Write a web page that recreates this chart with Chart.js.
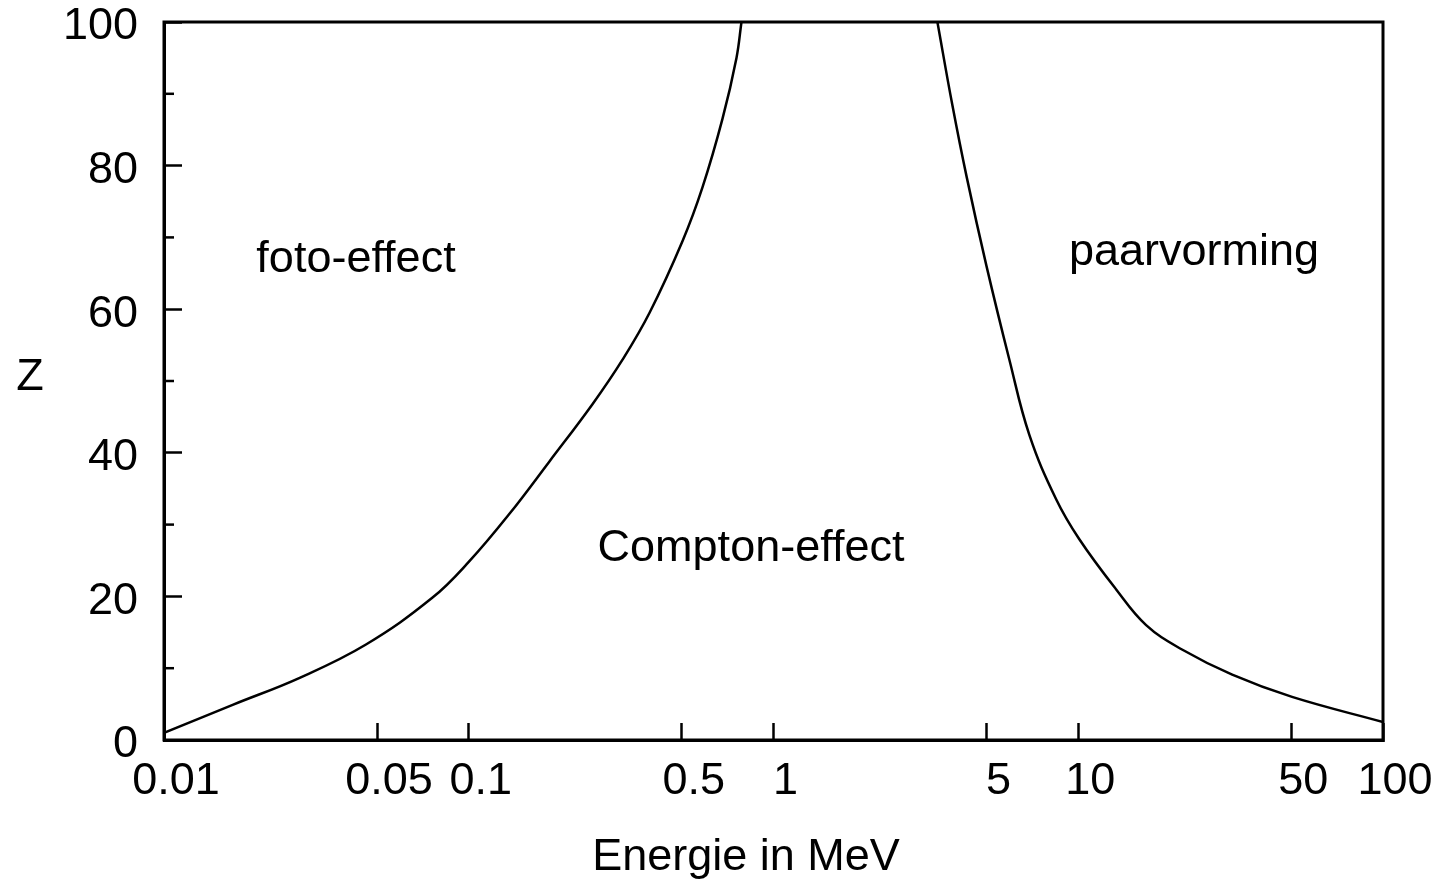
<!DOCTYPE html>
<html>
<head>
<meta charset="utf-8">
<script src="https://cdn.jsdelivr.net/npm/chart.js@4"></script>
<style>
  html, body { margin: 0; padding: 0; background: #fff; }
</style>
</head>
<body>
<canvas id="chart" width="1454" height="882"></canvas>
<script>
// grens foto-effect / Compton-effect
const photoEnergy = [0.01, 0.0168, 0.028, 0.046, 0.0759, 0.1, 0.136, 0.184, 0.255, 0.32, 0.392, 0.503, 0.585, 0.68, 0.756, 0.785];
const photoZ      = [1, 4.9, 8.7, 13.3, 19.8, 24.8, 31.5, 38.8, 46.8, 53, 59.5, 69.5, 77, 86.5, 95, 100];

// grens Compton-effect / paarvorming
const pairEnergy = [3.45, 3.86, 4.3, 5.0, 5.94, 6.91, 8.47, 10.07, 13.3, 16.7, 21.9, 32, 50.3, 100];
const pairZ      = [100, 88.5, 78.5, 66, 53, 42.5, 33.5, 28, 21, 16, 12.6, 9.1, 6.0, 2.5];

const energyTicks = [0.01, 0.05, 0.1, 0.5, 1, 5, 10, 50, 100];
const minorZ = [10, 30, 50, 70, 90];

const FONT = '"Liberation Sans", Arial, sans-serif';

const toPoints = (xs, ys) => xs.map((x, i) => ({ x, y: ys[i] }));

// tekst in de grafiek: gebieden, Z en de x-as titel
const labels = [
  { text: 'foto-effect', x: 356, y: 272 },
  { text: 'paarvorming', x: 1194, y: 265 },
  { text: 'Compton-effect', x: 751, y: 561 },
  { text: 'Energie in MeV', x: 746, y: 870 },
  { text: 'Z', x: 30, y: 390 }
];

const annotations = {
  id: 'annotations',
  afterDraw(chart) {
    const { ctx, chartArea, scales: { y } } = chart;
    ctx.save();
    // kader
    ctx.strokeStyle = '#000';
    ctx.lineWidth = 3;
    ctx.strokeRect(chartArea.left, chartArea.top, chartArea.right - chartArea.left, chartArea.bottom - chartArea.top);
    // kleine streepjes op de y-as
    ctx.lineWidth = 2.5;
    minorZ.forEach(v => {
      const py = y.getPixelForValue(v);
      ctx.beginPath();
      ctx.moveTo(chartArea.left, py);
      ctx.lineTo(chartArea.left + 10, py);
      ctx.stroke();
    });
    ctx.fillStyle = '#000';
    ctx.font = '45px ' + FONT;
    ctx.textAlign = 'center';
    ctx.textBaseline = 'alphabetic';
    labels.forEach(l => ctx.fillText(l.text, l.x, l.y));
    ctx.restore();
  }
};

new Chart(document.getElementById('chart'), {
  type: 'line',
  data: {
    datasets: [
      {
        label: 'foto / Compton',
        data: toPoints(photoEnergy, photoZ),
        borderColor: '#000',
        borderWidth: 2.5,
        pointRadius: 0,
        tension: 0.4,
        fill: false
      },
      {
        label: 'Compton / paar',
        data: toPoints(pairEnergy, pairZ),
        borderColor: '#000',
        borderWidth: 2.5,
        pointRadius: 0,
        tension: 0.4,
        fill: false
      }
    ]
  },
  options: {
    responsive: false,
    devicePixelRatio: 1,
    animation: false,
    layout: { padding: { top: 22, right: 71, left: 0, bottom: 0 } },
    plugins: {
      legend: { display: false },
      tooltip: { enabled: false }
    },
    scales: {
      x: {
        type: 'logarithmic',
        min: 0.01,
        max: 100,
        afterBuildTicks: (scale) => { scale.ticks = energyTicks.map(v => ({ value: v })); },
        afterFit: (scale) => {
          scale.height = 142;
          scale.paddingLeft = 0;
          scale.paddingRight = 0;
        },
        border: { color: '#000', width: 3 },
        grid: { drawOnChartArea: false, tickLength: -17, tickWidth: 2.5, tickColor: '#000' },
        ticks: {
          color: '#000',
          font: { family: FONT, size: 45, lineHeight: 1 },
          padding: 36,
          labelOffset: 12,
          maxRotation: 0,
          autoSkip: false,
          callback: (v) => String(v)
        }
      },
      y: {
        min: 0,
        max: 100,
        afterFit: (scale) => {
          scale.width = 164;
          scale.paddingTop = 0;
          scale.paddingBottom = 0;
        },
        border: { color: '#000', width: 3 },
        grid: { drawOnChartArea: false, tickLength: -18, tickWidth: 2.5, tickColor: '#000' },
        ticks: {
          stepSize: 20,
          color: '#000',
          font: { family: FONT, size: 45, lineHeight: 1 },
          padding: 44,
          labelOffset: 5
        }
      }
    }
  },
  plugins: [annotations]
});
</script>
</body>
</html>
